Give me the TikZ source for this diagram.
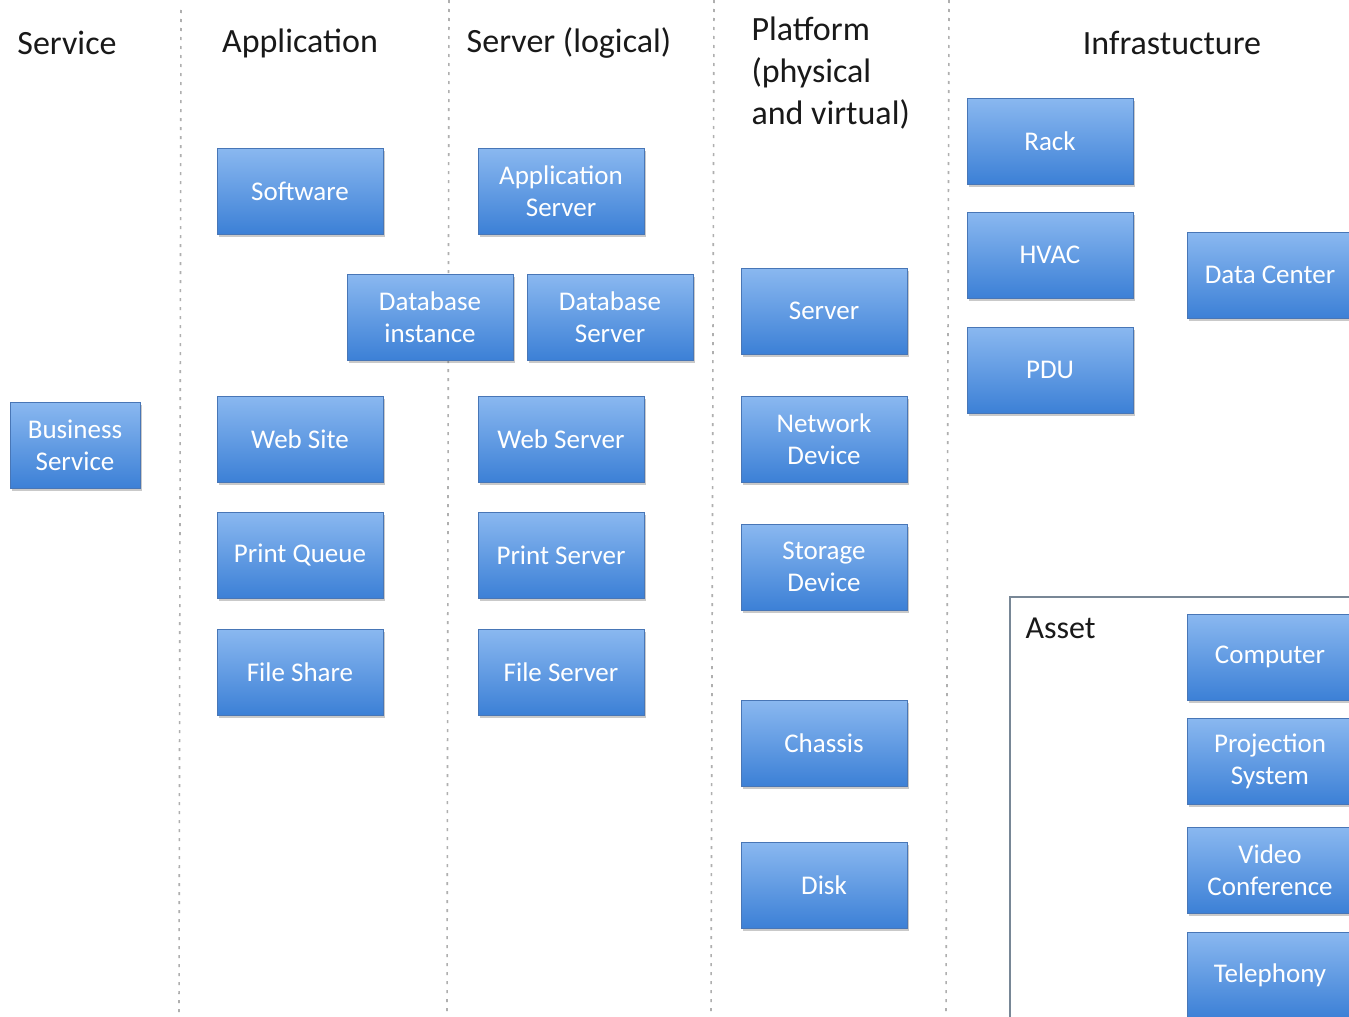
\documentclass[tikz,border=0pt]{standalone}
\usepackage{fontspec}
\setmainfont{Carlito}
\usepackage{tikz}
\usetikzlibrary{positioning,shadows}

\definecolor{boxtop}{RGB}{138,184,240}
\definecolor{boxbot}{RGB}{60,128,214}
\definecolor{boxline}{RGB}{72,118,182}
\definecolor{sepgray}{RGB}{175,175,175}
\definecolor{framegray}{RGB}{120,135,150}

\begin{document}
\begin{tikzpicture}[x=1pt, y=-1pt,
        item/.style={draw=boxline, line width=1pt, top color=boxtop, bottom color=boxbot,
            minimum width=166pt, minimum height=86pt, align=center, text=white,
            font=\fontsize{27}{32}\selectfont,
            drop shadow={shadow xshift=2pt, shadow yshift=-3pt, opacity=0.35, fill=black!60}},
        heading/.style={font=\fontsize{34}{42}\selectfont, text=black!90},
        sep/.style={draw=sepgray, line width=1.6pt, dash pattern=on 3pt off 6pt}]
        \useasboundingbox[fill=white] (0,0) rectangle (1349,1017);

        % Column separators
        \draw[sep] (181,10) -- (179,1017);
        \draw[sep] (449,0) -- (447,1017);
        \draw[sep] (714,0) -- (711,1017);
        \draw[sep] (949,0) -- (946,1017);

        % Headings
        \node[heading] (hservice) at (67,43) {Service};
        \node[heading] (happ) at (300,43) {Application};
        \node[heading] (hserver) at (569,43) {Server (logical)};
        \node[heading, anchor=north west, align=left] (hplatform) at (748,13) {Platform\\(physical\\and virtual)};
        \node[heading] (hinfra) at (1172,43) {Infrastucture};

        % Service
        \node[item, minimum width=130pt] (bizservice) at (75,445) {Business\\Service};

        % Application
        \node[item] (software) at (300,191) {Software};
        \node[item] (dbinstance) at (430,317) {Database\\instance};
        \node[item] (website) at (300,439) {Web Site};
        \node[item] (printqueue) at (300,555) {Print Queue};
        \node[item] (fileshare) at (300,672) {File Share};

        % Server (logical)
        \node[item] (appserver) at (561,191) {Application\\Server};
        \node[item] (dbserver) at (610,317) {Database\\Server};
        \node[item] (webserver) at (561,439) {Web Server};
        \node[item] (printserver) at (561,555) {Print Server};
        \node[item] (fileserver) at (561,672) {File Server};

        % Platform
        \node[item] (server) at (824,311) {Server};
        \node[item] (netdevice) at (824,439) {Network\\Device};
        \node[item] (storage) at (824,567) {Storage\\Device};
        \node[item] (chassis) at (824,743) {Chassis};
        \node[item] (disk) at (824,885) {Disk};

        % Infrastucture
        \node[item] (rack) at (1050,141) {Rack};
        \node[item] (hvac) at (1050,255) {HVAC};
        \node[item] (pdu) at (1050,370) {PDU};
        \node[item] (datacenter) at (1270,275) {Data Center};

        % Asset
        \draw[draw=framegray, line width=1.8pt, fill=white] (1010,597) rectangle (1370,1040);
        \node[heading, anchor=west, font=\fontsize{32}{38}\selectfont] (hasset) at (1022,628) {Asset};
        \node[item] (computer) at (1270,657) {Computer};
        \node[item] (projection) at (1270,761) {Projection\\System};
        \node[item] (video) at (1270,870) {Video\\Conference};
        \node[item] (telephony) at (1270,975) {Telephony};
    \end{tikzpicture}
\end{document}
